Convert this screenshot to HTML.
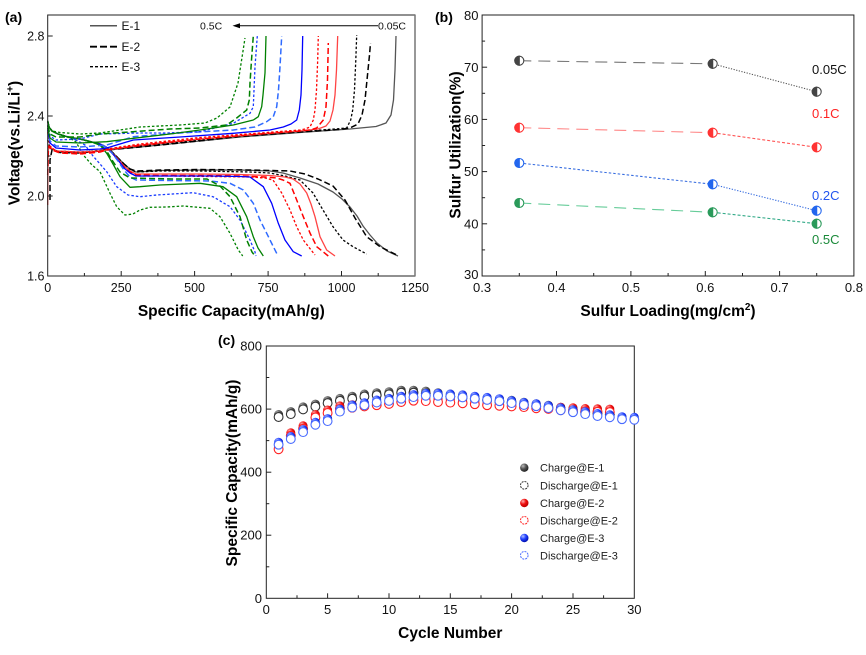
<!DOCTYPE html>
<html><head><meta charset="utf-8"><style>
html,body{margin:0;padding:0;background:#fff;}
svg{display:block;font-family:"Liberation Sans",Arial,sans-serif;}
</style></head><body>
<svg width="866" height="655" viewBox="0 0 866 655" xmlns="http://www.w3.org/2000/svg">
<defs>
<radialGradient id="gK" cx="0.35" cy="0.3" r="0.7"><stop offset="0" stop-color="#bbb"/><stop offset="0.5" stop-color="#555"/><stop offset="1" stop-color="#222"/></radialGradient>
<radialGradient id="gR" cx="0.35" cy="0.3" r="0.7"><stop offset="0" stop-color="#ffb0b0"/><stop offset="0.5" stop-color="#f01010"/><stop offset="1" stop-color="#b00"/></radialGradient>
<radialGradient id="gB" cx="0.35" cy="0.3" r="0.7"><stop offset="0" stop-color="#b0c0ff"/><stop offset="0.5" stop-color="#2040ff"/><stop offset="1" stop-color="#0010b0"/></radialGradient>
<circle id="cK" r="4.5" fill="url(#gK)"/>
<circle id="dK" r="4.4" fill="#fff" stroke="#333" stroke-width="1.1"/>
<circle id="cR" r="4.5" fill="url(#gR)"/>
<circle id="dR" r="4.4" fill="#fff" stroke="#f22" stroke-width="1.1"/>
<circle id="cB" r="4.5" fill="url(#gB)"/>
<circle id="dB" r="4.4" fill="#fff" stroke="#4a6cff" stroke-width="1.1"/>
</defs>

<!-- ================= PANEL A ================= -->
<text x="5" y="22" font-size="14" font-weight="bold">(a)</text>
<g fill="none" stroke-linejoin="round" stroke-linecap="butt">
<!-- discharge curves -->
<polyline stroke="#555" stroke-width="1.3" points="47.7,121 49,127 52,131 58,134 68,137 80,139 92,142 100,144 106,147 112,152 118,158 124,164 130,169 136,172 145,171.5 160,170.5 200,170 240,170 270,171 283,173 300,178 318,184 333,192 342,199 350,207 357,216 363,226 370,235 377,243 387,251 398,256"/>
<polyline stroke="#000" stroke-width="1.5" stroke-dasharray="6,3" points="47.7,121 49,127 52,131 58,134 68,137 80,139 92,142 100,144 106,147 112,152 118,158 124,164 130,169 136,171 160,170 200,169.5 250,170 290,171 305,174 318,179 333,186 345,200 355,218 366.7,236.7 380,246.7 396.7,255"/>
<polyline stroke="#000" stroke-width="1.3" stroke-dasharray="2.5,2" points="47.7,121 49,127 52,131 58,134 68,137 80,139 92,142 100,144 106,147 112,152 118,158 124,164 130,169 136,172 160,171 200,171 250,172 270,173 285,176 300,180 313,193 323,210 333,226.7 343,240 353,246.7 366.7,254"/>
<polyline stroke="#f44" stroke-width="1.3" points="47.7,121 49,127 52,131 58,134 68,137 80,139 92,142 100,144 106,147 112,153 118,159 124,166 130,171 136,174 160,174 200,174 240,174.5 270,175.5 285,177 293,179 300,184 306.7,193 311,204 315,216.7 320,236.7 326.7,250 335,256"/>
<polyline stroke="#f00" stroke-width="1.5" stroke-dasharray="6,3" points="47.7,121 49,127 52,131 58,134 68,137 80,139 92,142 100,144 106,147 112,153 118,160 124,167 130,172 136,175 160,175.5 200,175.5 240,176 265,177 276.7,178 283,180 290,183.3 296.7,200 303.3,216.7 310,233 316.7,246.7 328.3,256"/>
<polyline stroke="#f00" stroke-width="1.3" stroke-dasharray="2.5,2" points="47.7,121 49,127 52,131 58,134 68,137 80,139 92,142 100,144 106,147 112,153 118,160 124,168 130,173 136,176 170,176 210,176.5 250,177 265,178 273,180 281.7,193 290,210 296.7,226.7 303.3,240 315,255"/>
<polyline stroke="#0000ff" stroke-width="1.3" points="47.7,121 49,127 52,131 58,134 68,137 80,139 92,142 100,144 106,147 112,153 118,160 124,168 130,173 136,176 170,176 210,176 240,176.5 250,177 263.3,186.7 271.7,203.3 278.3,223.3 285,240 293.3,251.7 301.7,256"/>
<polyline stroke="#2f6bff" stroke-width="1.5" stroke-dasharray="6,3" points="47.7,121 49,127 52,131 58,134 68,137 80,139 92,142 100,145 106,147 112,153 118,161 124,170 130,177 136,180 170,180.5 210,181 230,183.3 243.3,190 253.3,203.3 260,220 266.7,233.3 272,244 277.5,255"/>
<polyline stroke="#1a3cff" stroke-width="1.3" stroke-dasharray="2.5,2" points="47.7,121 49,127 52,131 58,134 68,137 78,141 85,145 93,156 100,164 106.7,171.7 116.7,186.7 128,195 140,196.7 156.7,195 193,192.7 213,196.7 230,206.7 240,220 250,240 255,252 256,256"/>
<polyline stroke="#008000" stroke-width="1.3" points="47.7,121 49,127 52,131 58,134 68,137 80,139 92,142 100,145 106.7,153.3 113,164 120,176.7 130,187.3 140,186.7 160,185 200,183.3 223,186.7 236.7,196.7 246.7,216.7 253.3,236.7 258,248 263.3,256"/>
<polyline stroke="#008000" stroke-width="1.5" stroke-dasharray="6,3" points="47.7,121 49,127 52,131 58,134 68,137 80,139 92,142 100,145 106,150 112,160 120,172 130,178 173,179 207,179 220,186 230,196.7 240,216.7 246.7,240 252,252 255,256"/>
<polyline stroke="#008000" stroke-width="1.3" stroke-dasharray="2.5,2" points="47.7,121 49,127 52,131 58,134 68,137 76,142 83.3,155 92,165 100,171.7 110,193.3 116.7,206.7 125,215 133,214 140,210 150,207.3 166.7,207 183.3,206 210,208.3 220,216.7 230,233.3 238.3,250 242.7,256"/>
<!-- charge curves -->
<polyline stroke="#555" stroke-width="1.3" points="47.7,160 48.5,146 52,149 60,152 80,152.5 100,151 106.7,150 140,147 180,143 240,137 300,132.5 350,129 376,126.5 386,123 391,115 393.5,100 395,70 396,36"/>
<polyline stroke="#000" stroke-width="1.5" stroke-dasharray="6,3" points="50,200 50,160 52,150 60,152.5 80,153 100,151 106.7,150 140,147 180,143 240,136.5 300,132 340,129.5 350,128 358,124 362,115 365,100 367.5,75 369.5,55 370.5,43"/>
<polyline stroke="#000" stroke-width="1.3" stroke-dasharray="2.5,2" points="47.7,140 50,148 56,151 80,152 100,150.5 106.7,149.5 140,146 180,142 240,136 300,131.5 335,129 346.7,128 350.7,120 352.7,110 354.5,90 355.8,60 356.7,35"/>
<polyline stroke="#f44" stroke-width="1.3" points="47.7,205 48,150 50,147 56,151 80,152 100,151 106.7,150 140,145 200,139 260,134 300,131 318,129 326,126 330,121 333,110 335,95 336.5,70 337.7,36"/>
<polyline stroke="#f00" stroke-width="1.5" stroke-dasharray="6,3" points="47.7,175 48.5,146 52,150 60,153 80,154 100,152 106.7,150 140,145.5 200,139 260,134 300,131 310,130 316.7,128 323.3,120 326,106.7 327.5,80 328.3,43"/>
<polyline stroke="#f00" stroke-width="1.3" stroke-dasharray="2.5,2" points="47.7,132 50,146 56,151 80,153 100,151 106.7,149 140,144 200,137.5 260,133 300,130 305,129 310,127 313.3,120 315,110 316.5,90 317.7,60 318.3,36"/>
<polyline stroke="#0000ff" stroke-width="1.3" points="47.7,130 50,143 56,148 80,150 100,149 106.7,148 133.3,140 180,137 233.3,133.3 270,130 283.3,127 291,124 296.7,120 299.3,110 301,95 302,70 302.7,36"/>
<polyline stroke="#2f6bff" stroke-width="1.5" stroke-dasharray="6,3" points="47.7,128 50,141 56,146 80,147 106.7,145 133.3,136.7 180,133 233.3,130 255,127 266.7,121.7 273.3,116.7 276.7,106.7 278.5,90 280,66.7 281.7,36"/>
<polyline stroke="#1a3cff" stroke-width="1.3" stroke-dasharray="2.5,2" points="47.7,125 50,136 56,140 80,139 100,134 140,133 167,133 200,131.7 233.3,123.3 250,113.3 253.3,106.7 255,66.7 257.3,36"/>
<polyline stroke="#008000" stroke-width="1.3" points="47.7,128 50,138 56,142 80,143 106.7,141.7 133.3,138.3 170,134 200,130 233.3,125 253.3,120 258.3,116.7 261.7,106.7 263,95 265,73 266,36"/>
<polyline stroke="#008000" stroke-width="1.5" stroke-dasharray="6,3" points="47.7,126 50,134 56,137 80,137 100,134 133,131.7 170,129 200,128 226.7,125 236.7,118 246.7,110 249.3,100 250,83 251.5,60 253.3,36"/>
<polyline stroke="#008000" stroke-width="1.3" stroke-dasharray="2.5,2" points="47.7,125 52,131 60,132.5 80,134 100,133 140,127 180,125 205,123 217,118 230,107 238,83 242.7,53 245,38"/>
</g>
<!-- frame a -->
<rect x="47.7" y="15" width="367.3" height="261" fill="none" stroke="#222" stroke-width="1"/>
<line x1="415" y1="15" x2="415" y2="276" stroke="#777" stroke-width="1.5"/>
<g stroke="#222" stroke-width="1">
<line x1="47.7" y1="36" x2="52.7" y2="36"/><line x1="47.7" y1="116" x2="52.7" y2="116"/><line x1="47.7" y1="196" x2="52.7" y2="196"/>
<line x1="47.7" y1="76" x2="50.7" y2="76"/><line x1="47.7" y1="156" x2="50.7" y2="156"/><line x1="47.7" y1="236" x2="50.7" y2="236"/>
<line x1="121.2" y1="276" x2="121.2" y2="271"/><line x1="194.6" y1="276" x2="194.6" y2="271"/><line x1="268.1" y1="276" x2="268.1" y2="271"/><line x1="341.5" y1="276" x2="341.5" y2="271"/>
<line x1="84.4" y1="276" x2="84.4" y2="273"/><line x1="157.9" y1="276" x2="157.9" y2="273"/><line x1="231.3" y1="276" x2="231.3" y2="273"/><line x1="304.8" y1="276" x2="304.8" y2="273"/><line x1="378.2" y1="276" x2="378.2" y2="273"/>
</g>
<g font-size="12.5" fill="#111">
<g text-anchor="end"><text x="44.5" y="40.5">2.8</text><text x="44.5" y="120.5">2.4</text><text x="44.5" y="200.5">2.0</text><text x="44.5" y="280.5">1.6</text></g>
<g text-anchor="middle"><text x="47.7" y="292">0</text><text x="121.2" y="292">250</text><text x="194.6" y="292">500</text><text x="268.1" y="292">750</text><text x="341.5" y="292">1000</text><text x="415" y="292">1250</text></g>
</g>
<text x="231.3" y="316" font-size="15.5" font-weight="bold" text-anchor="middle">Specific Capacity(mAh/g)</text>
<text transform="translate(19.5,143) rotate(-90)" font-size="15.5" font-weight="bold" text-anchor="middle">Voltage(vs.Li/Li<tspan font-size="10" dy="-6">+</tspan><tspan dy="6">)</tspan></text>
<!-- legend a -->
<line x1="90" y1="25.7" x2="117" y2="25.7" stroke="#555" stroke-width="1.5"/>
<line x1="90" y1="46.7" x2="117" y2="46.7" stroke="#000" stroke-width="1.8" stroke-dasharray="7,3"/>
<line x1="90" y1="66.7" x2="117" y2="66.7" stroke="#000" stroke-width="1.3" stroke-dasharray="3,2"/>
<g font-size="12" fill="#111"><text x="121.5" y="30">E-1</text><text x="121.5" y="51">E-2</text><text x="121.5" y="71">E-3</text></g>
<!-- arrow -->
<line x1="237" y1="25.7" x2="378" y2="25.7" stroke="#000" stroke-width="1"/>
<polygon points="232.5,25.7 240,23.2 240,28.2" fill="#000"/>
<g font-size="10.5" fill="#111"><text x="200" y="29.5">0.5C</text><text x="378" y="29.5">0.05C</text></g>

<!-- ================= PANEL B ================= -->
<text x="435" y="22" font-size="14" font-weight="bold">(b)</text>
<rect x="482.1" y="15" width="371.8" height="261" fill="none" stroke="#222" stroke-width="1"/>
<g stroke="#222" stroke-width="1">
<line x1="482.1" y1="67.2" x2="487.1" y2="67.2"/><line x1="482.1" y1="119.4" x2="487.1" y2="119.4"/><line x1="482.1" y1="171.6" x2="487.1" y2="171.6"/><line x1="482.1" y1="223.8" x2="487.1" y2="223.8"/>
<line x1="482.1" y1="41.1" x2="485.1" y2="41.1"/><line x1="482.1" y1="93.3" x2="485.1" y2="93.3"/><line x1="482.1" y1="145.5" x2="485.1" y2="145.5"/><line x1="482.1" y1="197.7" x2="485.1" y2="197.7"/><line x1="482.1" y1="249.9" x2="485.1" y2="249.9"/>
<line x1="556.5" y1="276" x2="556.5" y2="271"/><line x1="630.9" y1="276" x2="630.9" y2="271"/><line x1="705.3" y1="276" x2="705.3" y2="271"/><line x1="779.6" y1="276" x2="779.6" y2="271"/>
<line x1="519.3" y1="276" x2="519.3" y2="273"/><line x1="593.7" y1="276" x2="593.7" y2="273"/><line x1="668.1" y1="276" x2="668.1" y2="273"/><line x1="742.5" y1="276" x2="742.5" y2="273"/><line x1="816.7" y1="276" x2="816.7" y2="273"/>
</g>
<g font-size="13" fill="#111">
<g text-anchor="end"><text x="478.5" y="20">80</text><text x="478.5" y="72">70</text><text x="478.5" y="124">60</text><text x="478.5" y="176">50</text><text x="478.5" y="228.5">40</text><text x="478.5" y="279">30</text></g>
<g text-anchor="middle"><text x="482.1" y="292">0.3</text><text x="556.5" y="292">0.4</text><text x="630.9" y="292">0.5</text><text x="705.3" y="292">0.6</text><text x="779.6" y="292">0.7</text><text x="853.9" y="292">0.8</text></g>
</g>
<text x="668" y="316" font-size="15.5" font-weight="bold" text-anchor="middle">Sulfur Loading(mg/cm<tspan font-size="10" dy="-6">2</tspan><tspan dy="6">)</tspan></text>
<text transform="translate(460.5,145) rotate(-90)" font-size="15.5" font-weight="bold" text-anchor="middle">Sulfur Utilization(%)</text>
<!-- lines b -->
<g fill="none" stroke-width="1.1">
<line x1="519.3" y1="60.7" x2="712.7" y2="63.8" stroke="#777" stroke-dasharray="12,7"/>
<line x1="712.7" y1="63.8" x2="816.7" y2="91.7" stroke="#555" stroke-dasharray="1.2,1.5"/>
<line x1="519.3" y1="127.7" x2="712.7" y2="132.7" stroke="#f88" stroke-dasharray="12,7"/>
<line x1="712.7" y1="132.7" x2="816.7" y2="147.3" stroke="#f55" stroke-dasharray="3,2"/>
<line x1="519.3" y1="163" x2="712.7" y2="184.3" stroke="#3a6fe0" stroke-dasharray="2.5,2"/>
<line x1="712.7" y1="184.3" x2="816.7" y2="210.7" stroke="#3a6fe0" stroke-dasharray="1.3,1.5"/>
<line x1="519.3" y1="203" x2="712.7" y2="212.3" stroke="#6c9" stroke-dasharray="12,7"/>
<line x1="712.7" y1="212.3" x2="816.7" y2="223.7" stroke="#3a8" stroke-dasharray="3,2"/>
</g>
<!-- markers b -->
<g stroke-width="1.1">
<g stroke="#444"><circle cx="519.3" cy="60.7" r="4.5" fill="#fff"/><path d="M519.3,56.2 A4.5,4.5 0 0 0 519.3,65.2 Z" fill="#444"/>
<circle cx="712.7" cy="63.8" r="4.5" fill="#fff"/><path d="M712.7,59.3 A4.5,4.5 0 0 0 712.7,68.3 Z" fill="#444"/>
<circle cx="816.7" cy="91.7" r="4.5" fill="#fff"/><path d="M816.7,87.2 A4.5,4.5 0 0 0 816.7,96.2 Z" fill="#444"/></g>
<g stroke="#f33"><circle cx="519.3" cy="127.7" r="4.5" fill="#fff"/><path d="M519.3,123.2 A4.5,4.5 0 0 0 519.3,132.2 Z" fill="#f33"/>
<circle cx="712.7" cy="132.7" r="4.5" fill="#fff"/><path d="M712.7,128.2 A4.5,4.5 0 0 0 712.7,137.2 Z" fill="#f33"/>
<circle cx="816.7" cy="147.3" r="4.5" fill="#fff"/><path d="M816.7,142.8 A4.5,4.5 0 0 0 816.7,151.8 Z" fill="#f33"/></g>
<g stroke="#2266ee"><circle cx="519.3" cy="163" r="4.5" fill="#fff"/><path d="M519.3,158.5 A4.5,4.5 0 0 0 519.3,167.5 Z" fill="#2266ee"/>
<circle cx="712.7" cy="184.3" r="4.5" fill="#fff"/><path d="M712.7,179.8 A4.5,4.5 0 0 0 712.7,188.8 Z" fill="#2266ee"/>
<circle cx="816.7" cy="210.7" r="4.5" fill="#fff"/><path d="M816.7,206.2 A4.5,4.5 0 0 0 816.7,215.2 Z" fill="#2266ee"/></g>
<g stroke="#2a9a5a"><circle cx="519.3" cy="203" r="4.5" fill="#fff"/><path d="M519.3,198.5 A4.5,4.5 0 0 0 519.3,207.5 Z" fill="#2a9a5a"/>
<circle cx="712.7" cy="212.3" r="4.5" fill="#fff"/><path d="M712.7,207.8 A4.5,4.5 0 0 0 712.7,216.8 Z" fill="#2a9a5a"/>
<circle cx="816.7" cy="223.7" r="4.5" fill="#fff"/><path d="M816.7,219.2 A4.5,4.5 0 0 0 816.7,228.2 Z" fill="#2a9a5a"/></g>
</g>
<g font-size="13"><text x="812" y="74" fill="#111">0.05C</text><text x="812" y="118" fill="#f22">0.1C</text><text x="812" y="200" fill="#2255ee">0.2C</text><text x="812" y="244" fill="#1a8a3a">0.5C</text></g>

<!-- ================= PANEL C ================= -->
<text x="218" y="345" font-size="14" font-weight="bold">(c)</text>
<rect x="266.3" y="346" width="368" height="252.3" fill="none" stroke="#222" stroke-width="1"/>
<g stroke="#222" stroke-width="1">
<line x1="266.3" y1="535.2" x2="271.3" y2="535.2"/><line x1="266.3" y1="472.2" x2="271.3" y2="472.2"/><line x1="266.3" y1="409.1" x2="271.3" y2="409.1"/>
<line x1="266.3" y1="566.8" x2="269.3" y2="566.8"/><line x1="266.3" y1="503.7" x2="269.3" y2="503.7"/><line x1="266.3" y1="440.6" x2="269.3" y2="440.6"/><line x1="266.3" y1="377.5" x2="269.3" y2="377.5"/>
<line x1="327.6" y1="598.3" x2="327.6" y2="593.3"/><line x1="389" y1="598.3" x2="389" y2="593.3"/><line x1="450.3" y1="598.3" x2="450.3" y2="593.3"/><line x1="511.6" y1="598.3" x2="511.6" y2="593.3"/><line x1="573" y1="598.3" x2="573" y2="593.3"/>
<line x1="297" y1="598.3" x2="297" y2="595.3"/><line x1="358.3" y1="598.3" x2="358.3" y2="595.3"/><line x1="419.6" y1="598.3" x2="419.6" y2="595.3"/><line x1="481" y1="598.3" x2="481" y2="595.3"/><line x1="542.3" y1="598.3" x2="542.3" y2="595.3"/><line x1="603.6" y1="598.3" x2="603.6" y2="595.3"/>
</g>
<g font-size="13" fill="#111">
<g text-anchor="end"><text x="262" y="350.5">800</text><text x="262" y="539.7">200</text><text x="262" y="476.7">400</text><text x="262" y="413.6">600</text><text x="262" y="602.8">0</text></g>
<g text-anchor="middle"><text x="266.3" y="614">0</text><text x="327.6" y="614">5</text><text x="389" y="614">10</text><text x="450.3" y="614">15</text><text x="511.6" y="614">20</text><text x="573" y="614">25</text><text x="634.3" y="614">30</text></g>
</g>
<text x="450.3" y="638" font-size="15.5" font-weight="bold" text-anchor="middle">Cycle Number</text>
<text transform="translate(237,473) rotate(-90)" font-size="15.5" font-weight="bold" text-anchor="middle">Specific Capacity(mAh/g)</text>

<!-- E-1 -->
<g>
<use href="#cK" x="278.6" y="414.5"/><use href="#cK" x="290.8" y="411.6"/><use href="#cK" x="303.1" y="406.9"/><use href="#cK" x="315.4" y="404.1"/><use href="#cK" x="327.6" y="400.6"/><use href="#cK" x="339.9" y="398.4"/><use href="#cK" x="352.2" y="396.2"/><use href="#cK" x="364.4" y="394.0"/><use href="#cK" x="376.7" y="392.7"/><use href="#cK" x="389.0" y="391.8"/><use href="#cK" x="401.2" y="390.2"/><use href="#cK" x="413.5" y="390.2"/><use href="#cK" x="425.8" y="391.1"/><use href="#cK" x="438.0" y="392.7"/><use href="#cK" x="450.3" y="394.0"/><use href="#cK" x="462.6" y="394.9"/><use href="#cK" x="474.8" y="396.5"/><use href="#cK" x="487.1" y="397.7"/><use href="#cK" x="499.4" y="399.0"/><use href="#cK" x="511.6" y="400.3"/><use href="#cK" x="523.9" y="402.2"/><use href="#cK" x="536.2" y="403.7"/><use href="#cK" x="548.4" y="405.3"/><use href="#cK" x="560.7" y="407.2"/><use href="#cK" x="573.0" y="409.1"/><use href="#cK" x="585.2" y="410.0"/><use href="#cK" x="597.5" y="411.0"/><use href="#cK" x="609.8" y="412.3"/>
<use href="#dK" x="278.6" y="417.0"/><use href="#dK" x="290.8" y="414.1"/><use href="#dK" x="303.1" y="409.4"/><use href="#dK" x="315.4" y="406.6"/><use href="#dK" x="327.6" y="403.1"/><use href="#dK" x="339.9" y="400.9"/><use href="#dK" x="352.2" y="398.7"/><use href="#dK" x="364.4" y="396.5"/><use href="#dK" x="376.7" y="395.2"/><use href="#dK" x="389.0" y="394.3"/><use href="#dK" x="401.2" y="392.7"/><use href="#dK" x="413.5" y="392.7"/><use href="#dK" x="425.8" y="393.6"/><use href="#dK" x="438.0" y="395.2"/><use href="#dK" x="450.3" y="396.5"/><use href="#dK" x="462.6" y="397.4"/><use href="#dK" x="474.8" y="399.0"/><use href="#dK" x="487.1" y="400.2"/><use href="#dK" x="499.4" y="401.5"/><use href="#dK" x="511.6" y="402.8"/><use href="#dK" x="523.9" y="404.7"/><use href="#dK" x="536.2" y="406.2"/><use href="#dK" x="548.4" y="407.8"/><use href="#dK" x="560.7" y="409.7"/><use href="#dK" x="573.0" y="411.6"/><use href="#dK" x="585.2" y="412.5"/><use href="#dK" x="597.5" y="413.5"/><use href="#dK" x="609.8" y="414.8"/>
</g>
<!-- E-2 -->
<g>
<use href="#cR" x="278.6" y="446.3"/><use href="#cR" x="290.8" y="432.8"/><use href="#cR" x="303.1" y="425.8"/><use href="#cR" x="315.4" y="414.5"/><use href="#cR" x="327.6" y="410.0"/><use href="#cR" x="339.9" y="405.9"/><use href="#cR" x="352.2" y="404.7"/><use href="#cR" x="364.4" y="403.4"/><use href="#cR" x="376.7" y="402.2"/><use href="#cR" x="389.0" y="400.9"/><use href="#cR" x="401.2" y="399.0"/><use href="#cR" x="413.5" y="397.7"/><use href="#cR" x="425.8" y="398.1"/><use href="#cR" x="438.0" y="399.0"/><use href="#cR" x="450.3" y="399.6"/><use href="#cR" x="462.6" y="400.3"/><use href="#cR" x="474.8" y="401.2"/><use href="#cR" x="487.1" y="402.2"/><use href="#cR" x="499.4" y="402.8"/><use href="#cR" x="511.6" y="403.4"/><use href="#cR" x="523.9" y="404.1"/><use href="#cR" x="536.2" y="405.3"/><use href="#cR" x="548.4" y="405.9"/><use href="#cR" x="560.7" y="407.2"/><use href="#cR" x="573.0" y="407.8"/><use href="#cR" x="585.2" y="408.5"/><use href="#cR" x="597.5" y="408.8"/><use href="#cR" x="609.8" y="409.1"/>
<use href="#dR" x="278.6" y="449.3"/><use href="#dR" x="290.8" y="435.8"/><use href="#dR" x="303.1" y="428.8"/><use href="#dR" x="315.4" y="417.5"/><use href="#dR" x="327.6" y="413.0"/><use href="#dR" x="339.9" y="408.9"/><use href="#dR" x="352.2" y="407.7"/><use href="#dR" x="364.4" y="406.4"/><use href="#dR" x="376.7" y="405.2"/><use href="#dR" x="389.0" y="403.9"/><use href="#dR" x="401.2" y="402.0"/><use href="#dR" x="413.5" y="400.7"/><use href="#dR" x="425.8" y="401.1"/><use href="#dR" x="438.0" y="402.0"/><use href="#dR" x="450.3" y="402.6"/><use href="#dR" x="462.6" y="403.3"/><use href="#dR" x="474.8" y="404.2"/><use href="#dR" x="487.1" y="405.2"/><use href="#dR" x="499.4" y="405.8"/><use href="#dR" x="511.6" y="406.4"/><use href="#dR" x="523.9" y="407.1"/><use href="#dR" x="536.2" y="408.3"/><use href="#dR" x="548.4" y="408.9"/><use href="#dR" x="560.7" y="410.2"/><use href="#dR" x="573.0" y="410.8"/><use href="#dR" x="585.2" y="411.5"/><use href="#dR" x="597.5" y="411.8"/><use href="#dR" x="609.8" y="412.1"/>
</g>
<!-- E-3 -->
<g>
<use href="#cB" x="278.6" y="442.2"/><use href="#cB" x="290.8" y="436.5"/><use href="#cB" x="303.1" y="429.6"/><use href="#cB" x="315.4" y="422.3"/><use href="#cB" x="327.6" y="418.6"/><use href="#cB" x="339.9" y="409.1"/><use href="#cB" x="352.2" y="405.0"/><use href="#cB" x="364.4" y="402.8"/><use href="#cB" x="376.7" y="400.0"/><use href="#cB" x="389.0" y="398.4"/><use href="#cB" x="401.2" y="396.2"/><use href="#cB" x="413.5" y="394.6"/><use href="#cB" x="425.8" y="393.3"/><use href="#cB" x="438.0" y="393.3"/><use href="#cB" x="450.3" y="394.0"/><use href="#cB" x="462.6" y="394.9"/><use href="#cB" x="474.8" y="396.2"/><use href="#cB" x="487.1" y="397.4"/><use href="#cB" x="499.4" y="398.7"/><use href="#cB" x="511.6" y="400.6"/><use href="#cB" x="523.9" y="402.5"/><use href="#cB" x="536.2" y="403.7"/><use href="#cB" x="548.4" y="405.6"/><use href="#cB" x="560.7" y="407.8"/><use href="#cB" x="573.0" y="409.7"/><use href="#cB" x="585.2" y="411.6"/><use href="#cB" x="597.5" y="413.5"/><use href="#cB" x="609.8" y="414.8"/><use href="#cB" x="622.0" y="416.7"/><use href="#cB" x="634.3" y="417.3"/>
<use href="#dB" x="278.6" y="444.7"/><use href="#dB" x="290.8" y="439.0"/><use href="#dB" x="303.1" y="432.1"/><use href="#dB" x="315.4" y="424.8"/><use href="#dB" x="327.6" y="421.1"/><use href="#dB" x="339.9" y="411.6"/><use href="#dB" x="352.2" y="407.5"/><use href="#dB" x="364.4" y="405.3"/><use href="#dB" x="376.7" y="402.5"/><use href="#dB" x="389.0" y="400.9"/><use href="#dB" x="401.2" y="398.7"/><use href="#dB" x="413.5" y="397.1"/><use href="#dB" x="425.8" y="395.8"/><use href="#dB" x="438.0" y="395.8"/><use href="#dB" x="450.3" y="396.5"/><use href="#dB" x="462.6" y="397.4"/><use href="#dB" x="474.8" y="398.7"/><use href="#dB" x="487.1" y="399.9"/><use href="#dB" x="499.4" y="401.2"/><use href="#dB" x="511.6" y="403.1"/><use href="#dB" x="523.9" y="405.0"/><use href="#dB" x="536.2" y="406.2"/><use href="#dB" x="548.4" y="408.1"/><use href="#dB" x="560.7" y="410.3"/><use href="#dB" x="573.0" y="412.2"/><use href="#dB" x="585.2" y="414.1"/><use href="#dB" x="597.5" y="416.0"/><use href="#dB" x="609.8" y="417.3"/><use href="#dB" x="622.0" y="419.2"/><use href="#dB" x="634.3" y="419.8"/>
</g>
<!-- legend c -->
<circle cx="524.3" cy="467.7" r="4.2" fill="url(#gK)"/>
<circle cx="524.3" cy="485.3" r="3.8" fill="#fff" stroke="#333" stroke-width="1" stroke-dasharray="2,1"/>
<circle cx="524.3" cy="503" r="4.2" fill="url(#gR)"/>
<circle cx="524.3" cy="520.3" r="3.8" fill="#fff" stroke="#f22" stroke-width="1" stroke-dasharray="2,1"/>
<circle cx="524.3" cy="538" r="4.2" fill="url(#gB)"/>
<circle cx="524.3" cy="555.3" r="3.8" fill="#fff" stroke="#4a6cff" stroke-width="1" stroke-dasharray="2,1"/>
<g font-size="11" fill="#222">
<text x="540" y="471.7">Charge@E-1</text><text x="540" y="489.3">Discharge@E-1</text><text x="540" y="507">Charge@E-2</text><text x="540" y="524.3">Discharge@E-2</text><text x="540" y="542">Charge@E-3</text><text x="540" y="559.3">Discharge@E-3</text>
</g>
</svg>
</body></html>
